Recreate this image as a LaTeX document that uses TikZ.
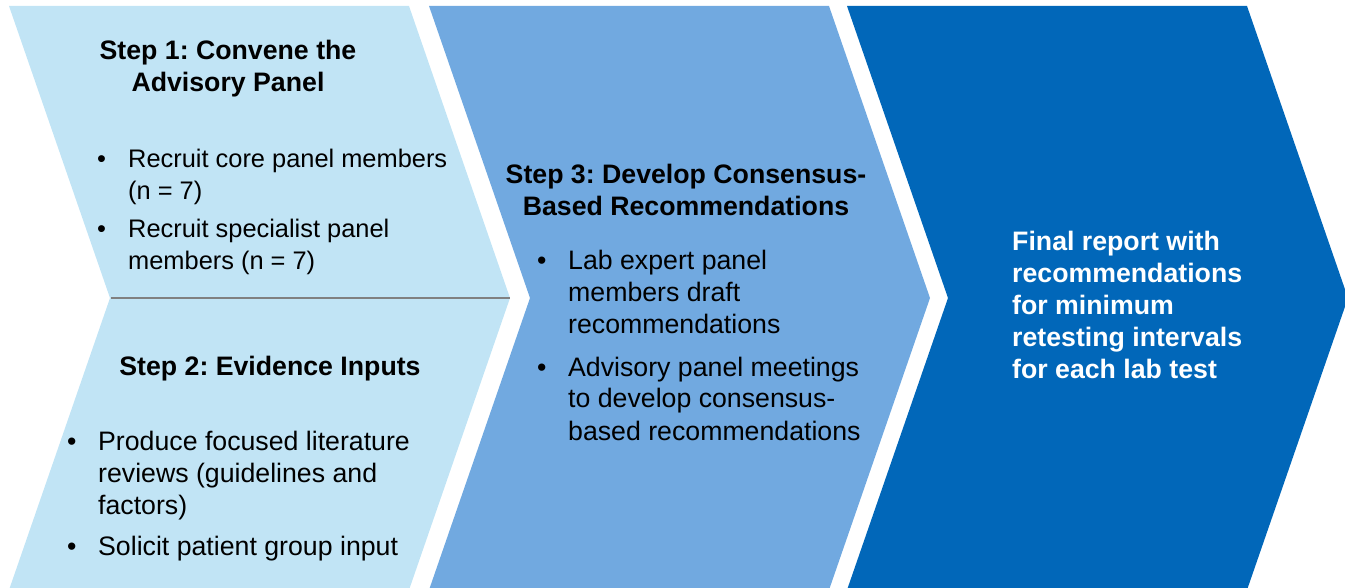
\documentclass[tikz,border=0pt]{standalone}
\usepackage{fontspec}
\setmainfont{Liberation Sans}
\frenchspacing
\definecolor{stepone}{RGB}{193,228,245}
\definecolor{steptwo}{RGB}{113,169,224}
\definecolor{stepthree}{RGB}{1,103,185}
\newcommand{\bulletitem}[1]{\makebox[31pt][l]{\textbullet}\begin{tabular}[t]{@{}l@{}}#1\end{tabular}}

\begin{document}
\begin{tikzpicture}[x=1pt,y=-1pt,
    head/.style={font=\fontsize{26.7}{32}\selectfont\bfseries,align=center,anchor=base,inner sep=0pt},
    item/.style={font=\fontsize{26.7}{32}\selectfont,anchor=base west,inner sep=0pt}]

  \useasboundingbox (0,0) rectangle (1345,588);

  % the three chevrons
  \foreach \xl/\col in {9/stepone,429/steptwo,847/stepthree}
    \fill[\col] (\xl,6) -- ++(400,0) -- ++(101,292) -- ++(-101,292)
      -- ++(-400,0) -- ++(101,-292) -- cycle;
  \draw[gray,line width=1.2pt] (111,298) -- (510,298);

  % step 1 (anchor = baseline of the last line)
  \node[head] (s1) at (228,92) {Step 1: Convene the\\Advisory Panel};
  \node[item,font=\fontsize{25.4}{32}\selectfont] (s1a) at (97,168) {\bulletitem{Recruit core panel members\\(n = 7)}};
  \node[item,font=\fontsize{25.4}{32}\selectfont] (s1b) at (97,238) {\bulletitem{Recruit specialist panel\\members (n = 7)}};

  % step 2
  \node[head] (s2) at (270,375) {Step 2: Evidence Inputs};
  \node[item] (s2a) at (67,450) {\bulletitem{Produce focused literature\\reviews (guidelines and\\factors)}};
  \node[item] (s2b) at (67,555) {\bulletitem{Solicit patient group input}};

  % step 3
  \node[head] (s3) at (686,216) {Step 3: Develop Consensus-\\Based Recommendations};
  \node[item] (s3a) at (537,270) {\bulletitem{Lab expert panel\\members draft\\recommendations}};
  \node[item] (s3b) at (537,376) {\bulletitem{Advisory panel meetings\\to develop consensus-\\based recommendations}};

  % result
  \node[head,anchor=base west,align=left,text=white] (fin) at (1012,378)
    {Final report with\\recommendations\\for minimum\\retesting intervals\\for each lab test};
\end{tikzpicture}
\end{document}
